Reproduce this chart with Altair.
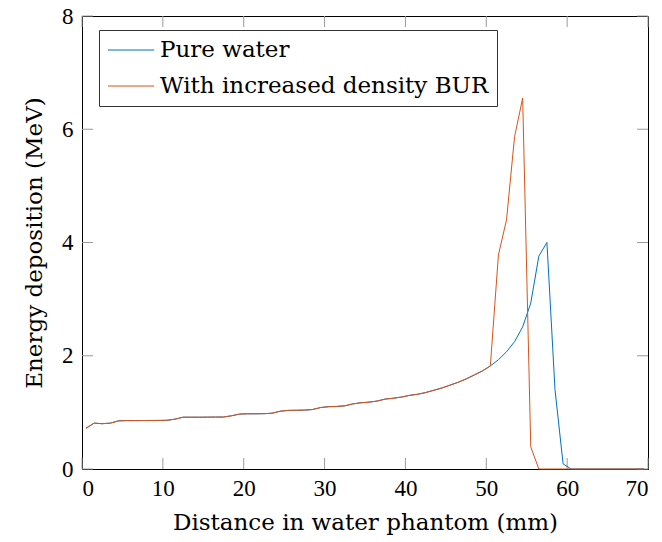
import altair as alt
import pandas as pd

x_mm = [i + 0.5 for i in range(70)]

common = [0.72, 0.81, 0.80, 0.81, 0.85, 0.855, 0.855, 0.856, 0.857, 0.858,
          0.86, 0.88, 0.915, 0.915, 0.915, 0.916, 0.917, 0.918, 0.94, 0.97,
          0.975, 0.975, 0.977, 0.985, 1.02, 1.035, 1.037, 1.04, 1.05, 1.085,
          1.10, 1.105, 1.115, 1.15, 1.17, 1.18, 1.20, 1.235, 1.25, 1.27,
          1.30, 1.32, 1.35, 1.39, 1.43, 1.48, 1.53, 1.59, 1.66, 1.73, 1.82]

pure_tail = [1.93, 2.07, 2.25, 2.51, 2.93, 3.76, 4.00, 1.40, 0.09,
             0, 0, 0, 0, 0, 0, 0, 0, 0, 0]
bur_tail = [3.78, 4.40, 5.87, 6.55, 0.39,
            0, 0, 0, 0, 0, 0, 0, 0, 0, 0, 0, 0, 0, 0]

pure_water = common + pure_tail
bur = common + bur_tail

series_names = ["Pure water", "With increased density BUR"]
series_colors = ["#0072BD", "#D95319"]

x_ticks = [0, 10, 20, 30, 40, 50, 60, 70]
y_ticks = [0, 2, 4, 6, 8]

df = pd.concat([
    pd.DataFrame({"x": x_mm, "y": pure_water, "series": series_names[0], "ord": 0}),
    pd.DataFrame({"x": x_mm, "y": bur, "series": series_names[1], "ord": 1}),
])

W, H = 566, 453
NUM_FONT = "Liberation Serif"
TXT_FONT = "DejaVu Serif"

xs = alt.Scale(domain=[0, 70], nice=False)
ys = alt.Scale(domain=[0, 8], nice=False)

lines = alt.Chart(df).mark_line(strokeWidth=1).encode(
    x=alt.X("x:Q", scale=xs,
            axis=alt.Axis(values=x_ticks, ticks=False, grid=False, format="d",
                          title="Distance in water phantom (mm)",
                          labelPadding=8, titlePadding=11)),
    y=alt.Y("y:Q", scale=ys,
            axis=alt.Axis(values=y_ticks, ticks=False, grid=False, format="d",
                          title="Energy deposition (MeV)",
                          labelPadding=9, titlePadding=15)),
    color=alt.Color("series:N",
                    scale=alt.Scale(domain=series_names, range=series_colors),
                    legend=alt.Legend(title=None, orient="none",
                                      legendX=17, legendY=14,
                                      symbolType="M-1,0H3.2", symbolSize=484,
                                      symbolStrokeWidth=1.2,
                                      labelFontSize=23, labelFont=TXT_FONT,
                                      labelOffset=29, rowPadding=12,
                                      padding=8, strokeColor="#333333",
                                      fillColor="white", cornerRadius=0,
                                      labelLimit=600)),
    order=alt.Order("ord:Q"),
)

xt = pd.DataFrame({"v": x_ticks})
yt = pd.DataFrame({"v": y_ticks})
tick_color = "#9a9a9a"
TL = 11

bt = alt.Chart(xt).mark_rule(color=tick_color).encode(
    x=alt.X("v:Q", scale=xs), y=alt.value(H), y2=alt.value(H - TL))
tt = alt.Chart(xt).mark_rule(color=tick_color).encode(
    x=alt.X("v:Q", scale=xs), y=alt.value(0), y2=alt.value(TL))
lt = alt.Chart(yt).mark_rule(color=tick_color).encode(
    y=alt.Y("v:Q", scale=ys), x=alt.value(0), x2=alt.value(TL))
rt = alt.Chart(yt).mark_rule(color=tick_color).encode(
    y=alt.Y("v:Q", scale=ys), x=alt.value(W), x2=alt.value(W - TL))

chart = alt.layer(bt, tt, lt, rt, lines).properties(
    width=W, height=H,
    autosize=alt.AutoSizeParams(type="none"),
    padding={"left": 82, "top": 16, "right": 14, "bottom": 73},
).configure_view(stroke="black", strokeWidth=1).configure_axis(
    domainColor="black", labelFont=NUM_FONT, titleFont=TXT_FONT,
    labelFontSize=23, titleFontSize=23, titleFontWeight="normal",
    labelColor="black", titleColor="black",
)

chart.save("out.html", embed_options={"renderer": "svg", "actions": False})
